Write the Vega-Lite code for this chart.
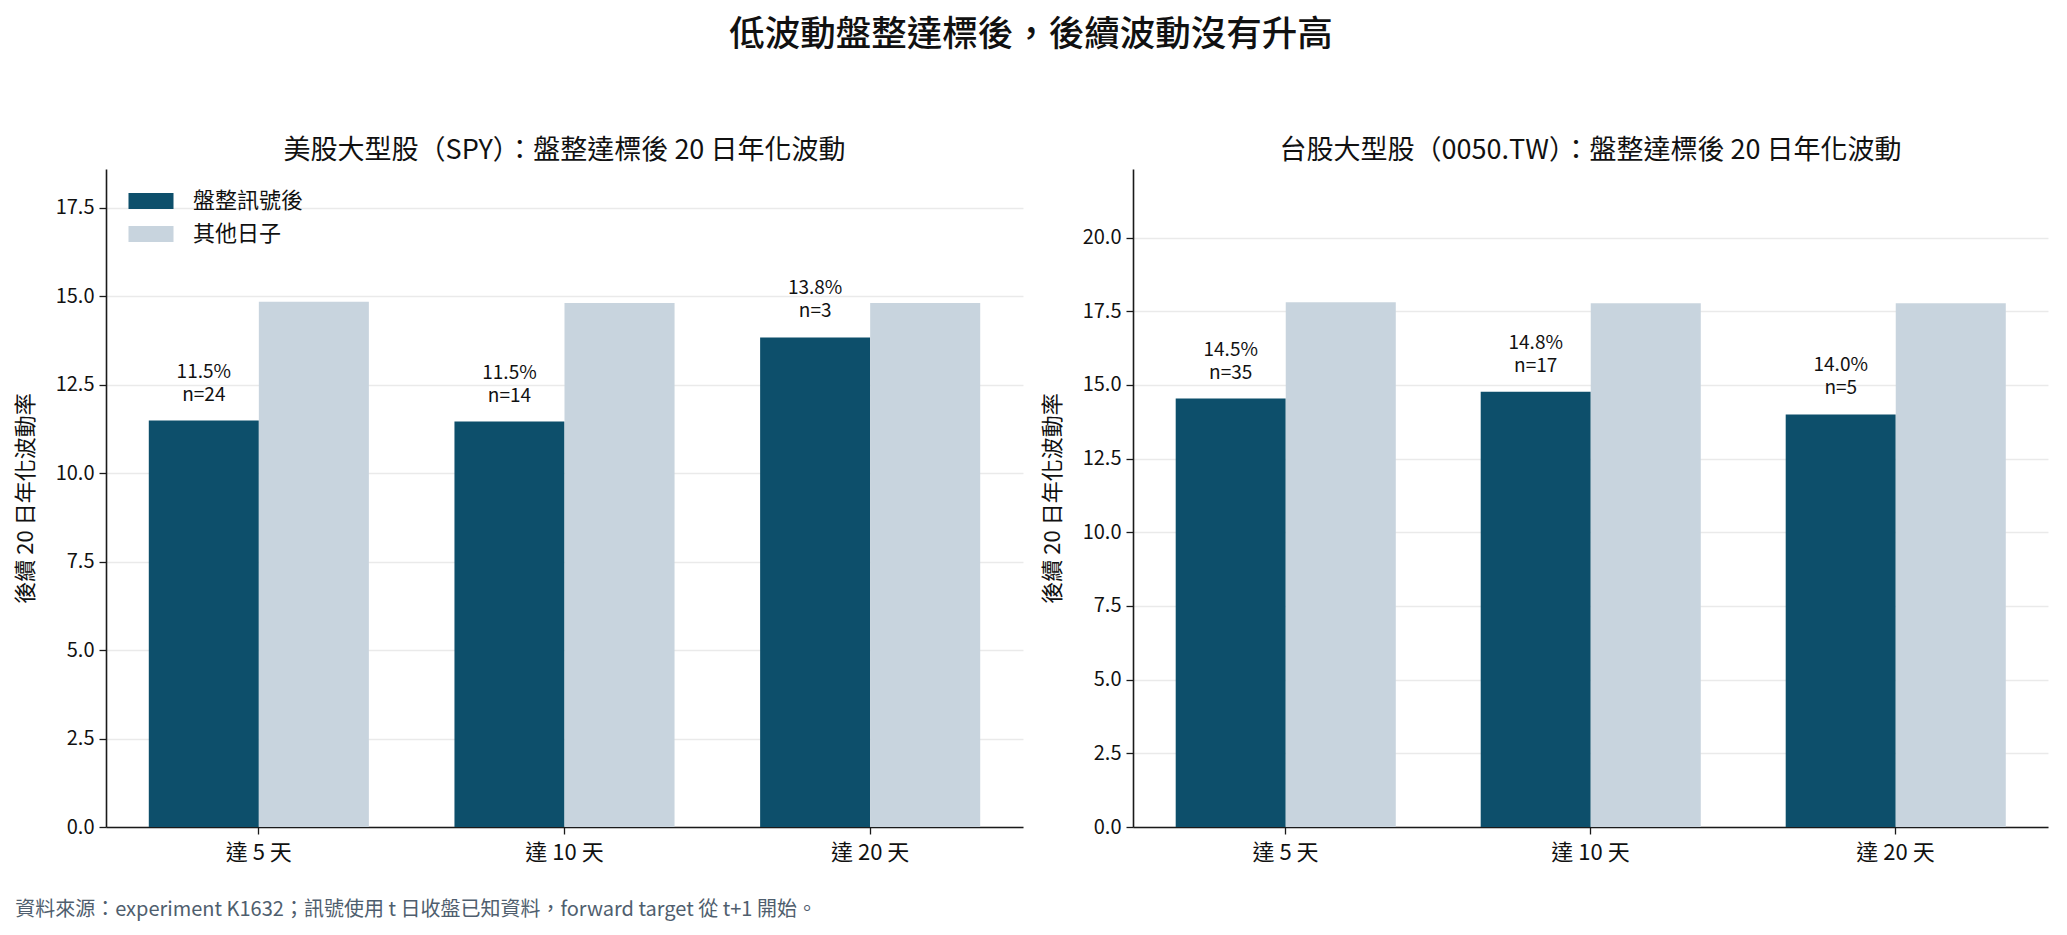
{
  "$schema": "https://vega.github.io/schema/vega-lite/v6.json",
  "padding": {"left": 14, "right": 17, "top": 17, "bottom": 14},
  "background": "white",
  "datasets": {
    "vol": [
      {"market": "SPY", "horizon": "達 5 天", "group": "盤整訊號後", "vol": 11.49, "label": "11.5%\nn=24"},
      {"market": "SPY", "horizon": "達 5 天", "group": "其他日子", "vol": 14.85, "label": ""},
      {"market": "SPY", "horizon": "達 10 天", "group": "盤整訊號後", "vol": 11.46, "label": "11.5%\nn=14"},
      {"market": "SPY", "horizon": "達 10 天", "group": "其他日子", "vol": 14.81, "label": ""},
      {"market": "SPY", "horizon": "達 20 天", "group": "盤整訊號後", "vol": 13.84, "label": "13.8%\nn=3"},
      {"market": "SPY", "horizon": "達 20 天", "group": "其他日子", "vol": 14.81, "label": ""},
      {"market": "TW", "horizon": "達 5 天", "group": "盤整訊號後", "vol": 14.54, "label": "14.5%\nn=35"},
      {"market": "TW", "horizon": "達 5 天", "group": "其他日子", "vol": 17.81, "label": ""},
      {"market": "TW", "horizon": "達 10 天", "group": "盤整訊號後", "vol": 14.77, "label": "14.8%\nn=17"},
      {"market": "TW", "horizon": "達 10 天", "group": "其他日子", "vol": 17.77, "label": ""},
      {"market": "TW", "horizon": "達 20 天", "group": "盤整訊號後", "vol": 14.0, "label": "14.0%\nn=5"},
      {"market": "TW", "horizon": "達 20 天", "group": "其他日子", "vol": 17.77, "label": ""}
    ]
  },
  "title": {"text": "低波動盤整達標後，後續波動沒有升高", "fontSize": 35.5, "fontWeight": 500, "anchor": "middle", "offset": 84, "color": "#111111"},
  "vconcat": [
    {
      "title": {"text": "資料來源：experiment K1632；訊號使用 t 日收盤已知資料，forward target 從 t+1 開始。", "orient": "bottom", "anchor": "start", "fontSize": 20, "fontWeight": "normal", "color": "#4f5e6e", "offset": 37, "dx": 1},
      "spacing": 18,
      "resolve": {"scale": {"color": "independent", "y": "independent"}, "legend": {"color": "independent"}},
      "hconcat": [
        {
          "title": {"text": "美股大型股（SPY）：盤整達標後 20 日年化波動"},
          "width": 917,
          "height": 658,
          "data": {"name": "vol"},
          "transform": [{"filter": "datum.market === 'SPY'"}],
          "encoding": {
            "x": {"field": "horizon", "type": "nominal", "sort": ["達 5 天", "達 10 天", "達 20 天"], "scale": {"paddingInner": 0.28, "paddingOuter": 0.14}, "axis": {"title": null, "labelAngle": 0}},
            "y": {"field": "vol", "type": "quantitative", "scale": {"domain": [0, 18.6], "nice": false}, "axis": {"title": "後續 20 日年化波動率", "values": [0, 2.5, 5, 7.5, 10, 12.5, 15, 17.5], "format": ".1f"}},
            "xOffset": {"field": "group", "type": "nominal", "sort": ["盤整訊號後", "其他日子"], "scale": {"paddingInner": 0, "paddingOuter": 0}}
          },
          "layer": [
            {
              "mark": {"type": "bar"},
              "encoding": {
                "color": {"field": "group", "type": "nominal", "sort": ["盤整訊號後", "其他日子"], "scale": {"domain": ["盤整訊號後", "其他日子"], "range": ["#0d4f6b", "#c8d4de"]}, "legend": {"title": null, "orient": "none", "legendX": 34, "legendY": 21}}
              }
            },
            {
              "transform": [{"filter": "datum.group === '盤整訊號後'"}],
              "mark": {"type": "text", "baseline": "bottom", "dy": -39, "lineBreak": "\n", "fontSize": 19, "lineHeight": 23, "color": "#111111"},
              "encoding": {"text": {"field": "label"}}
            }
          ]
        },
        {
          "title": {"text": "台股大型股（0050.TW）：盤整達標後 20 日年化波動"},
          "width": 915,
          "height": 658,
          "data": {"name": "vol"},
          "transform": [{"filter": "datum.market === 'TW'"}],
          "encoding": {
            "x": {"field": "horizon", "type": "nominal", "sort": ["達 5 天", "達 10 天", "達 20 天"], "scale": {"paddingInner": 0.28, "paddingOuter": 0.14}, "axis": {"title": null, "labelAngle": 0}},
            "y": {"field": "vol", "type": "quantitative", "scale": {"domain": [0, 22.33], "nice": false}, "axis": {"title": "後續 20 日年化波動率", "values": [0, 2.5, 5, 7.5, 10, 12.5, 15, 17.5, 20], "format": ".1f"}},
            "xOffset": {"field": "group", "type": "nominal", "sort": ["盤整訊號後", "其他日子"], "scale": {"paddingInner": 0, "paddingOuter": 0}}
          },
          "layer": [
            {
              "mark": {"type": "bar"},
              "encoding": {
                "color": {"field": "group", "type": "nominal", "sort": ["盤整訊號後", "其他日子"], "scale": {"domain": ["盤整訊號後", "其他日子"], "range": ["#0d4f6b", "#c8d4de"]}, "legend": null}
              }
            },
            {
              "transform": [{"filter": "datum.group === '盤整訊號後'"}],
              "mark": {"type": "text", "baseline": "bottom", "dy": -39, "lineBreak": "\n", "fontSize": 19, "lineHeight": 23, "color": "#111111"},
              "encoding": {"text": {"field": "label"}}
            }
          ]
        }
      ]
    }
  ],
  "config": {
    "font": "Noto Sans CJK TC",
    "view": {"stroke": null},
    "axis": {"labelFontSize": 20, "titleFontSize": 22, "titleFontWeight": "normal", "labelColor": "#111111", "titleColor": "#111111", "domainColor": "#1a1a1a", "domainWidth": 1.6, "tickColor": "#1a1a1a", "tickSize": 7, "tickWidth": 1.3, "labelPadding": 5},
    "axisX": {"grid": false, "labelFontSize": 22, "labelPadding": 8},
    "axisY": {"grid": true, "gridColor": "#b8b8b8", "gridOpacity": 0.3, "gridWidth": 1.3, "zindex": 1, "titlePadding": 18},
    "title": {"fontSize": 27, "fontWeight": "normal", "color": "#111111", "offset": 4},
    "legend": {"padding": 0, "labelFontSize": 22, "labelColor": "#111111", "symbolType": "M-2.5,-0.89H2.5V0.89H-2.5Z", "symbolSize": 324, "symbolStrokeWidth": 0, "symbolOpacity": 1, "labelOffset": 31, "rowPadding": 11}
  }
}
